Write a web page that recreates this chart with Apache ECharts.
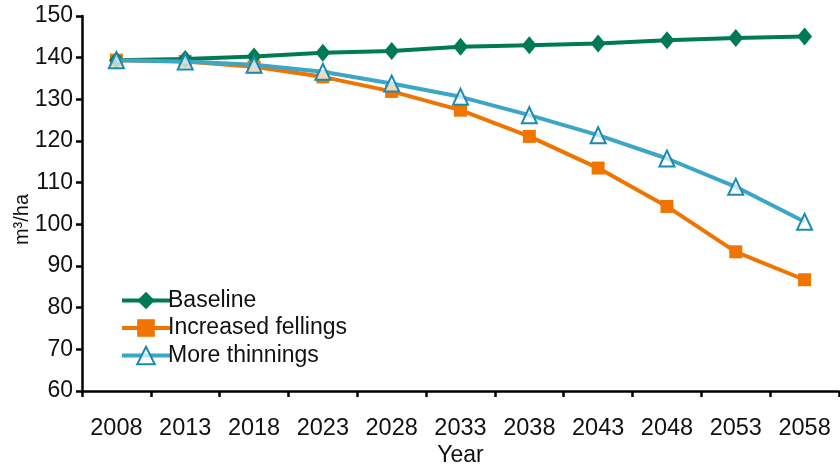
<!DOCTYPE html>
<html>
<head>
<meta charset="utf-8">
<script src="https://cdn.jsdelivr.net/npm/echarts@6/dist/echarts.min.js"></script>
<style>html,body{margin:0;padding:0;background:#fff}#c{width:840px;height:466px}</style>
</head>
<body>
<div id="c"></div>
<script>
const years = ['2008','2013','2018','2023','2028','2033','2038','2043','2048','2053','2058'];
const baseline = [139.4, 139.7, 140.3, 141.2, 141.6, 142.6, 143.0, 143.4, 144.2, 144.7, 145.1];
const increasedFellings = [139.4, 139.1, 137.8, 135.4, 131.9, 127.4, 121.1, 113.5, 104.3, 93.4, 86.7];
const moreThinnings = [139.4, 139.1, 138.3, 136.6, 133.8, 130.6, 126.2, 121.4, 115.8, 109.0, 100.6];

const FONT = '"Liberation Sans", Arial, Helvetica, sans-serif';
const chart = echarts.init(document.getElementById('c'), null, {renderer: 'canvas'});
chart.setOption({
  animation: false,
  backgroundColor: '#fff',
  textStyle: {fontFamily: FONT, color: '#111'},
  grid: {left: 82, right: 1, top: 16, bottom: 75, outerBoundsMode: 'none', containLabel: false},
  legend: {
    orient: 'vertical', left: 115, top: 284,
    itemWidth: 48, itemHeight: 22, itemGap: 4.5,
    lineStyle: {width: 4},
    textStyle: {fontFamily: FONT, fontSize: 23, color: '#111', padding: [0,0,0,-7]},
    data: ['Baseline', 'Increased fellings', 'More thinnings']
  },
  xAxis: {
    type: 'category', data: years, boundaryGap: true,
    name: 'Year', nameLocation: 'middle', nameGap: 53, nameMoveOverlap: false,
    nameTextStyle: {fontFamily: FONT, fontSize: 23, color: '#111'},
    axisLine: {lineStyle: {color: '#000', width: 2.5}},
    axisTick: {show: true, interval: 0, length: 6, lineStyle: {color: '#000', width: 2.5}},
    axisLabel: {interval: 0, hideOverlap: false, fontFamily: FONT, fontSize: 23.5, color: '#111', margin: 26}
  },
  yAxis: {
    type: 'value', min: 60, max: 150, interval: 10,
    name: 'm³/ha', nameLocation: 'middle', nameGap: 50, nameRotate: 90, nameMoveOverlap: false,
    nameTextStyle: {fontFamily: FONT, fontSize: 20, color: '#111', padding: [0, 32, 0, 0]},
    splitLine: {show: false},
    axisLine: {show: true, lineStyle: {color: '#000', width: 2.5}},
    axisTick: {show: true, length: 6, lineStyle: {color: '#000', width: 2.5}},
    axisLabel: {fontFamily: FONT, fontSize: 23, color: '#111', margin: 9}
  },
  series: [
    {
      name: 'Baseline', type: 'line', data: baseline,
      symbol: 'diamond', symbolSize: [15, 18],
      lineStyle: {color: '#007a55', width: 4},
      itemStyle: {color: '#007a55', borderColor: '#007a55', borderWidth: 0},
      z: 3
    },
    {
      name: 'Increased fellings', type: 'line', data: increasedFellings,
      symbol: 'rect', symbolSize: 13,
      lineStyle: {color: '#ef7400', width: 4},
      itemStyle: {color: '#ef7400', borderColor: '#ef7400', borderWidth: 0},
      z: 2
    },
    {
      name: 'More thinnings', type: 'line', data: moreThinnings,
      symbol: 'triangle', symbolSize: [15, 16],
      lineStyle: {color: '#3ba6c8', width: 4},
      itemStyle: {color: 'rgba(255,255,255,0.7)', borderColor: '#1b8ab0', borderWidth: 2},
      z: 4
    }
  ]
});
</script>
</body>
</html>
